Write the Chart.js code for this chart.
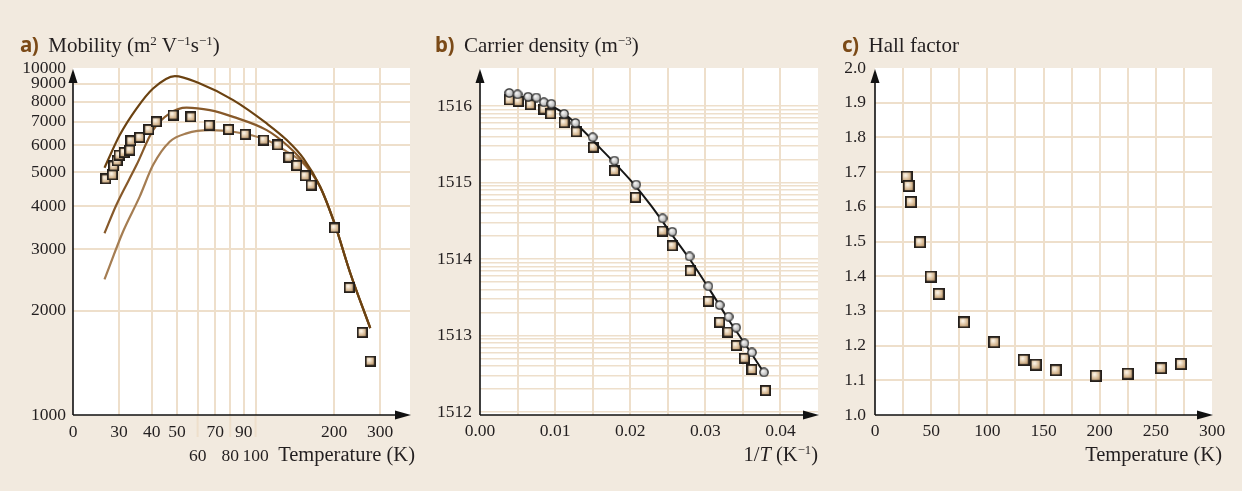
<!DOCTYPE html>
<html>
<head>
<meta charset="utf-8">
<title>Mobility, carrier density and Hall factor</title>
<script src="https://cdn.jsdelivr.net/npm/chart.js@4.4.1/dist/chart.umd.min.js"></script>
<style>
  html, body { margin: 0; padding: 0; }
  body {
    width: 1242px; height: 491px; position: relative; overflow: hidden;
    background: #f2eadf; color: #231f20;
    font-family: 'Liberation Serif', 'DejaVu Serif', serif;
  }
  canvas { position: absolute; top: 0; }
  .title { position: absolute; top: 34px; font-size: 21px; line-height: 21px; white-space: nowrap; }
  .title b { font-family: 'Noto Sans', sans-serif; font-weight: 700; font-size: 20.5px; color: #7b4a17; margin-right: 10px; letter-spacing: -0.5px; }
  .axis-title { position: absolute; top: 444px; font-size: 20.5px; line-height: 21px; white-space: nowrap; }
  sup { font-size: 0.62em; line-height: 0; position: relative; top: -0.55em; vertical-align: baseline; }
</style>
</head>
<body>
<canvas id="mobility" width="420" height="491" style="left:0"></canvas>
<canvas id="density" width="410" height="491" style="left:420px"></canvas>
<canvas id="hall" width="412" height="491" style="left:830px"></canvas>

<div class="title" style="left:20px"><b>a)</b>Mobility (m<sup>2</sup> V<sup>−1</sup>s<sup>−1</sup>)</div>
<div class="title" style="left:435px"><b>b)</b>Carrier density (m<sup>−3</sup>)</div>
<div class="title" style="left:842px"><b>c)</b>Hall factor</div>

<div class="axis-title" style="right:827px">Temperature (K)</div>
<div class="axis-title" style="right:424px">1/<i>T</i> (K<sup>−1</sup>)</div>
<div class="axis-title" style="right:20px">Temperature (K)</div>

<script>
// a) mobility vs temperature, measured points
const A_TEMP = [26.7, 28.3, 28.6, 29.5, 30.0, 31.4, 33.0, 33.3, 36.0, 39.0, 41.7, 48.3, 56.5,
  66.4, 78.8, 91.1, 107.4, 121.5, 134.0, 143.8, 154.7, 163.1, 200.4, 228.2, 255.9, 274.7];
const A_MOBILITY = [4790, 4920, 5220, 5400, 5610, 5710, 5800, 6170, 6310, 6650, 7000, 7320, 7230,
  6840, 6650, 6440, 6200, 6000, 5530, 5240, 4890, 4600, 3460, 2330, 1730, 1430];

// a) three calculated curves
const A_FIT1_TEMP = [26.4, 30.2, 35.0, 40.5, 49.1, 61.2, 82.1, 110.3, 131.6, 152.4, 176.6, 200.4, 230.1, 274.7];
const A_FIT1_MU = [5160, 6410, 7640, 8730, 9480, 9020, 8080, 6920, 6200, 5490, 4550, 3570, 2570, 1780];
const A_FIT2_TEMP = [26.4, 29.3, 35.0, 40.5, 46.9, 54.4, 66.8, 82.1, 110.3, 131.6, 152.0, 176.6, 200.4, 230.1, 274.7];
const A_FIT2_MU = [3340, 4030, 5250, 6620, 7400, 7690, 7560, 7230, 6620, 6000, 5370, 4550, 3570, 2570, 1780];
const A_FIT3_TEMP = [26.4, 31.1, 36.0, 40.5, 46.9, 54.4, 66.8, 82.1, 110.3, 131.6, 152.4, 176.6, 200.4, 230.1, 274.7];
const A_FIT3_MU = [2460, 3380, 4260, 5250, 6130, 6480, 6620, 6550, 6200, 5740, 5310, 4550, 3570, 2570, 1780];

const A_X_TICKS = [20, 30, 40, 50, 60, 70, 80, 90, 100, 200, 300];
const A_X_LOWER_ROW = [60, 80, 100];
const A_Y_TICKS = [1000, 2000, 3000, 4000, 5000, 6000, 7000, 8000, 9000, 10000];

// b) carrier density vs 1/T
const B_INV_T_CIRCLE = [0.0039, 0.0050, 0.0064, 0.0075, 0.0085, 0.0095, 0.0112, 0.0127, 0.0150, 0.0179, 0.0208,
  0.0243, 0.0256, 0.0279, 0.0304, 0.0319, 0.0331, 0.0341, 0.0352, 0.0362, 0.0378];
const B_N_CIRCLE = [1.48e16, 1.42e16, 1.32e16, 1.29e16, 1.12e16, 1.07e16, 7.9e15, 6.0e15, 3.9e15, 1.93e15, 9.4e14,
  3.4e14, 2.27e14, 1.08e14, 4.4e13, 2.5e13, 1.76e13, 1.27e13, 7.9e12, 6.0e12, 3.3e12];
const B_INV_T_SQUARE = [0.0039, 0.0051, 0.0067, 0.0085, 0.0094, 0.0112, 0.0128, 0.0151, 0.0179, 0.0207,
  0.0243, 0.0256, 0.0280, 0.0304, 0.0319, 0.0330, 0.0341, 0.0352, 0.0362, 0.0380];
const B_N_SQUARE = [1.20e16, 1.15e16, 1.04e16, 9.1e15, 7.9e15, 6.05e15, 4.6e15, 2.9e15, 1.43e15, 6.4e14,
  2.32e14, 1.49e14, 7.0e13, 2.8e13, 1.49e13, 1.11e13, 7.4e12, 5.05e12, 3.6e12, 1.91e12];
const B_FIT_INV_T = [0.0091, 0.0109, 0.0127, 0.0160, 0.0200, 0.0227, 0.0253, 0.0280, 0.0307, 0.0333, 0.0360, 0.0378];
const B_FIT_N = [1.06e16, 8.35e15, 6.0e15, 2.82e15, 1.08e15, 5.1e14, 2.25e14, 9.7e13, 3.8e13, 1.5e13, 6.1e12, 3.26e12];

const B_Y_DECADES = [1e12, 1e13, 1e14, 1e15, 1e16];
const B_Y_LABELS = ['1512', '1513', '1514', '1515', '1516'];

// c) Hall factor vs temperature
const C_TEMP = [28.2, 30.0, 32.0, 40.1, 49.6, 56.7, 79.2, 106.2, 132.4, 143.1, 160.9, 196.5, 225.0, 254.6, 272.4];
const C_HALL = [1.687, 1.660, 1.614, 1.498, 1.399, 1.349, 1.267, 1.210, 1.159, 1.145, 1.129, 1.113, 1.119, 1.135, 1.147];

const GRID = '#eedfcb';
const INK = '#231f20';
const TICK_FONT = { family: "'Liberation Serif', 'DejaVu Serif', serif", size: 17.5 };

const xy = (xs, ys) => xs.map((x, i) => ({ x: x, y: ys[i] }));

function squareMarker(size) {
  const c = document.createElement('canvas');
  c.width = c.height = size;
  const g = c.getContext('2d');
  const fill = g.createRadialGradient(size * 0.4, size * 0.38, 0.5, size * 0.45, size * 0.45, size * 0.72);
  fill.addColorStop(0, '#fbf3e6');
  fill.addColorStop(0.45, '#d7b993');
  fill.addColorStop(1, '#8c663f');
  g.fillStyle = fill;
  g.fillRect(0, 0, size, size);
  g.strokeStyle = '#241f1b';
  g.lineWidth = 1.8;
  g.strokeRect(0.9, 0.9, size - 1.8, size - 1.8);
  return c;
}

function roundMarker(size) {
  const c = document.createElement('canvas');
  c.width = c.height = size;
  const g = c.getContext('2d');
  const r = size / 2;
  const fill = g.createRadialGradient(r * 0.75, r * 0.7, 0.5, r, r, r);
  fill.addColorStop(0, '#f7f7f7');
  fill.addColorStop(0.6, '#c2c2c2');
  fill.addColorStop(1, '#858585');
  g.fillStyle = fill;
  g.beginPath();
  g.arc(r, r, r - 0.8, 0, Math.PI * 2);
  g.fill();
  g.strokeStyle = '#2e2e2e';
  g.lineWidth = 1.3;
  g.stroke();
  return c;
}

// white plot area under the grid
const plotArea = {
  id: 'plotArea',
  beforeDraw(chart) {
    const a = chart.chartArea;
    const ctx = chart.ctx;
    ctx.save();
    ctx.fillStyle = '#ffffff';
    ctx.fillRect(a.left, a.top, a.right - a.left, a.bottom - a.top);
    ctx.restore();
  }
};

// black axes with arrow heads
const axesArrows = {
  id: 'axesArrows',
  afterDraw(chart) {
    const { left, right, top, bottom } = chart.chartArea;
    const ctx = chart.ctx;
    ctx.save();
    ctx.strokeStyle = '#111';
    ctx.fillStyle = '#111';
    ctx.lineWidth = 1.6;
    ctx.beginPath();
    ctx.moveTo(left, bottom);
    ctx.lineTo(right - 10, bottom);
    ctx.moveTo(left, bottom);
    ctx.lineTo(left, top + 10);
    ctx.stroke();
    ctx.beginPath();
    ctx.moveTo(right + 1, bottom);
    ctx.lineTo(right - 15, bottom - 4.5);
    ctx.lineTo(right - 15, bottom + 4.5);
    ctx.closePath();
    ctx.fill();
    ctx.beginPath();
    ctx.moveTo(left, top + 1);
    ctx.lineTo(left - 4.5, top + 15);
    ctx.lineTo(left + 4.5, top + 15);
    ctx.closePath();
    ctx.fill();
    ctx.restore();
  }
};

// longer tick lines under the second row of temperature labels
const lowerRowTicks = {
  id: 'lowerRowTicks',
  afterDraw(chart) {
    const x = chart.scales.x;
    const ctx = chart.ctx;
    const bottom = chart.chartArea.bottom;
    ctx.save();
    ctx.strokeStyle = GRID;
    ctx.lineWidth = 2;
    A_X_LOWER_ROW.forEach(v => {
      const px = x.getPixelForValue(v);
      ctx.beginPath();
      ctx.moveTo(px, bottom + 1);
      ctx.lineTo(px, bottom + 22);
      ctx.stroke();
    });
    ctx.restore();
  }
};

const fixWidth = w => s => { s.width = w; s.paddingTop = 0; s.paddingBottom = 0; };
const fixHeight = h => s => { s.height = h; s.paddingLeft = 0; s.paddingRight = 0; };

const baseOptions = (padding) => ({
  responsive: false,
  animation: false,
  events: [],
  layout: { padding: padding },
  plugins: { legend: { display: false }, tooltip: { enabled: false } },
});

const tickStyle = (extra) => Object.assign({ color: INK, font: TICK_FONT, autoSkip: false, maxRotation: 0 }, extra);

// a) Mobility
const fitLine = (xs, ys, color, order) => ({
  data: xy(xs, ys),
  showLine: true,
  pointRadius: 0,
  borderColor: color,
  borderWidth: 2.2,
  cubicInterpolationMode: 'monotone',
  order: order,
});

new Chart(document.getElementById('mobility'), {
  type: 'scatter',
  data: {
    datasets: [
      { data: xy(A_TEMP, A_MOBILITY), pointStyle: squareMarker(11), pointRadius: 5.5, order: 0 },
      fitLine(A_FIT1_TEMP, A_FIT1_MU, '#6b4211', 1),
      fitLine(A_FIT2_TEMP, A_FIT2_MU, '#87592a', 2),
      fitLine(A_FIT3_TEMP, A_FIT3_MU, '#a57d52', 3),
    ],
  },
  options: Object.assign(baseOptions({ left: 13, right: 10, top: 68, bottom: 26 }), {
    scales: {
      x: {
        type: 'logarithmic', min: 20, max: 390,
        afterBuildTicks: s => { s.ticks = A_X_TICKS.map(v => ({ value: v })); },
        afterFit: fixHeight(50),
        border: { display: false },
        grid: { color: c => (c.tick && c.tick.value > 20 ? GRID : 'transparent'), lineWidth: 2, drawTicks: false },
        ticks: tickStyle({
          padding: 6,
          font: Object.assign({ lineHeight: 1.35 }, TICK_FONT),
          callback: v => (v === 20 ? '0' : A_X_LOWER_ROW.includes(v) ? ['', String(v)] : String(v)),
        }),
      },
      y: {
        type: 'logarithmic', min: 1000, max: 10000,
        afterBuildTicks: s => { s.ticks = A_Y_TICKS.map(v => ({ value: v })); },
        afterFit: fixWidth(60),
        border: { display: false },
        grid: { color: c => (c.tick && c.tick.value > 1000 && c.tick.value < 10000 ? GRID : 'transparent'), lineWidth: 2, drawTicks: false },
        ticks: tickStyle({ padding: 7, callback: v => String(v) }),
      },
    },
  }),
  plugins: [plotArea, lowerRowTicks, axesArrows],
});

// b) Carrier density
const B_Y_TICKS = [];
for (let e = 12; e < 16; e++) {
  for (let m = 1; m <= 9; m++) B_Y_TICKS.push(m * Math.pow(10, e));
}
B_Y_TICKS.push(1e16);

const decadeLabel = v => {
  const i = B_Y_DECADES.findIndex(d => Math.abs(v / d - 1) < 1e-6);
  return i >= 0 ? B_Y_LABELS[i] : '';
};

new Chart(document.getElementById('density'), {
  type: 'scatter',
  data: {
    datasets: [
      { data: xy(B_INV_T_CIRCLE, B_N_CIRCLE), pointStyle: roundMarker(10), pointRadius: 5, order: 0 },
      {
        data: xy(B_FIT_INV_T, B_FIT_N), showLine: true, pointRadius: 0,
        borderColor: '#161616', borderWidth: 2, cubicInterpolationMode: 'monotone', order: 1,
      },
      { data: xy(B_INV_T_SQUARE, B_N_SQUARE), pointStyle: squareMarker(11), pointRadius: 5.5, order: 2 },
    ],
  },
  options: Object.assign(baseOptions({ left: 8, right: 12, top: 68, bottom: 26 }), {
    scales: {
      x: {
        type: 'linear', min: 0, max: 0.045,
        afterFit: fixHeight(50),
        border: { display: false },
        grid: { color: c => (c.tick && c.tick.value > 0.001 && c.tick.value < 0.0445 ? GRID : 'transparent'), lineWidth: 2, drawTicks: false },
        ticks: tickStyle({
          stepSize: 0.005, padding: 6,
          callback: v => (Math.abs(v * 100 - Math.round(v * 100)) < 1e-6 ? v.toFixed(2) : ''),
        }),
      },
      y: {
        type: 'logarithmic', min: Math.pow(10, 11.961), max: Math.pow(10, 16.497),
        afterBuildTicks: s => { s.ticks = B_Y_TICKS.map(v => ({ value: v })); },
        afterFit: fixWidth(52),
        border: { display: false },
        grid: { color: GRID, lineWidth: 1.6, drawTicks: false },
        ticks: tickStyle({ padding: 8, callback: decadeLabel }),
      },
    },
  }),
  plugins: [plotArea, axesArrows],
});

// c) Hall factor
new Chart(document.getElementById('hall'), {
  type: 'scatter',
  data: {
    datasets: [
      { data: xy(C_TEMP, C_HALL), pointStyle: squareMarker(12), pointRadius: 6 },
    ],
  },
  options: Object.assign(baseOptions({ left: 5, right: 30, top: 68, bottom: 26 }), {
    scales: {
      x: {
        type: 'linear', min: 0, max: 300,
        afterFit: fixHeight(50),
        border: { display: false },
        grid: { color: c => (c.tick && c.tick.value > 0 && c.tick.value < 300 ? GRID : 'transparent'), lineWidth: 2, drawTicks: false },
        ticks: tickStyle({ stepSize: 25, padding: 6, callback: v => (v % 50 === 0 ? String(v) : '') }),
      },
      y: {
        type: 'linear', min: 1, max: 2,
        afterFit: fixWidth(40),
        border: { display: false },
        grid: { color: c => (c.tick && c.tick.value > 1.001 && c.tick.value < 1.999 ? GRID : 'transparent'), lineWidth: 2, drawTicks: false },
        ticks: tickStyle({ stepSize: 0.1, padding: 9, callback: v => v.toFixed(1) }),
      },
    },
  }),
  plugins: [plotArea, axesArrows],
});
</script>
</body>
</html>
